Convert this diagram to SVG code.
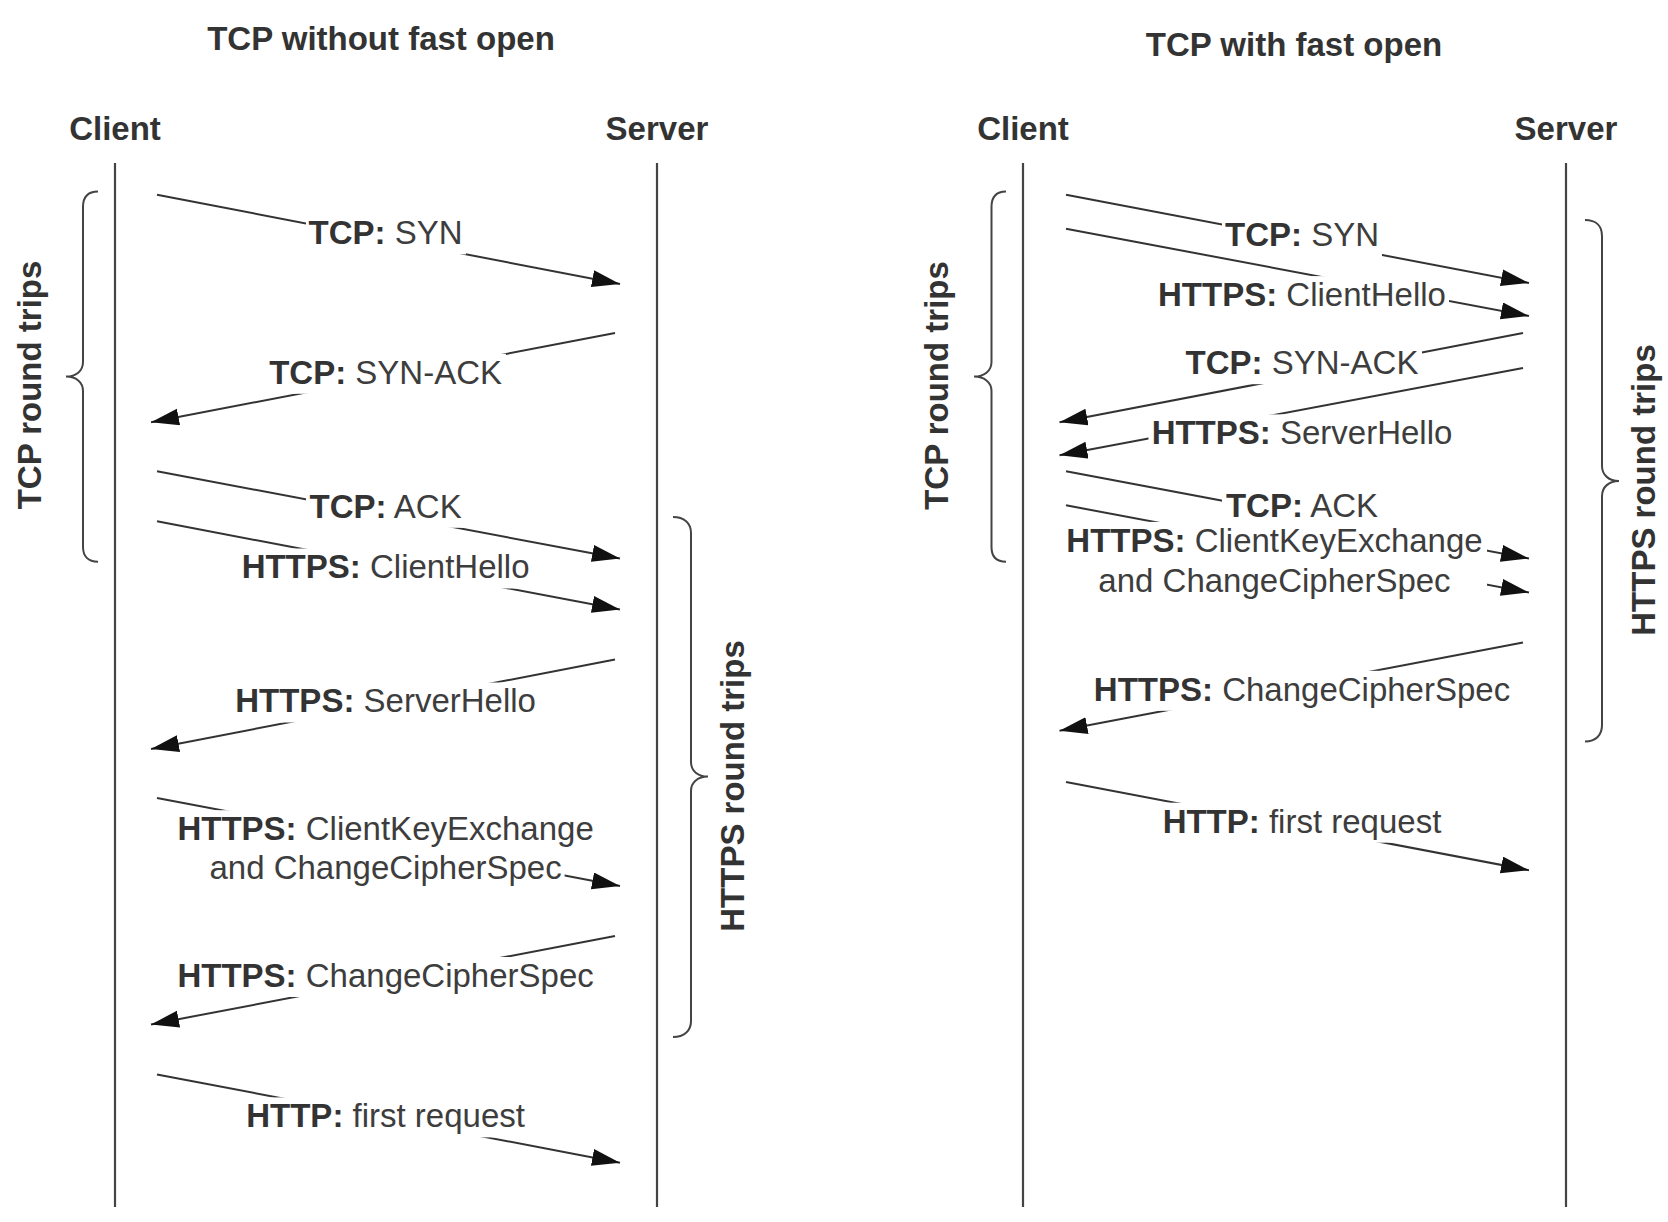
<svg xmlns="http://www.w3.org/2000/svg" width="1668" height="1222" viewBox="0 0 1668 1222">
<defs>
<style>
text{font-family:"Liberation Sans",Arial,sans-serif;font-size:33px;fill:#3d3d3d}
.b{font-weight:bold;fill:#333}
.c{text-anchor:middle}
.life{stroke:#444;stroke-width:2.2;fill:none}
.msg{stroke:#333;stroke-width:2;fill:none;marker-end:url(#ah)}
.brace{stroke:#444;stroke-width:2;fill:none}
.bg{fill:#fff}
</style>
<marker id="ah" markerWidth="30" markerHeight="18" refX="28" refY="8.5" orient="auto" markerUnits="userSpaceOnUse">
<path d="M0,0 L28,8.5 L0,17 Z" fill="#111"/>
</marker>
</defs>
<rect width="1668" height="1222" fill="#fff"/>

<g id="titles">
<text class="b c" x="381" y="50">TCP without fast open</text>
<text class="b c" x="1294" y="56">TCP with fast open</text>
</g>

<g id="left-client"><text class="b c" x="115" y="140">Client</text><line class="life" x1="115" y1="163" x2="115" y2="1207"/></g>
<g id="left-server"><text class="b c" x="657" y="140">Server</text><line class="life" x1="657" y1="163" x2="657" y2="1207"/></g>
<g id="right-client"><text class="b c" x="1023" y="140">Client</text><line class="life" x1="1023" y1="163" x2="1023" y2="1207"/></g>
<g id="right-server"><text class="b c" x="1566" y="140">Server</text><line class="life" x1="1566" y1="163" x2="1566" y2="1207"/></g>

<g id="left-tcp-brace">
<path class="brace" d="M98,191.5 C88,191.5 83,197 83,207 L83,362 C83,371 76,376.6 66,376.6 C76,376.6 83,382 83,391 L83,547 C83,556 88,561.7 98,561.7"/>
<text class="b c" transform="translate(40.5,385) rotate(-90)">TCP round trips</text>
</g>
<g id="left-https-brace">
<path class="brace" d="M673,517 C684,517 691,523 691,533 L691,762 C691,771 698,776.6 708,776.6 C698,776.6 691,782 691,791 L691,1021 C691,1031 684,1037 673,1037"/>
<text class="b c" transform="translate(744,786) rotate(-90)">HTTPS round trips</text>
</g>
<g id="right-tcp-brace">
<path class="brace" d="M1006,191.5 C996,191.5 991.5,197 991.5,207 L991.5,362 C991.5,371 984,376.6 974,376.6 C984,376.6 991.5,382 991.5,391 L991.5,547 C991.5,556 996,561.7 1006,561.7"/>
<text class="b c" transform="translate(948,385.5) rotate(-90)">TCP round trips</text>
</g>
<g id="right-https-brace">
<path class="brace" d="M1585,220 C1596,220 1602,226 1602,236 L1602,466 C1602,475 1609,481 1619,481 C1609,481 1602,487 1602,496 L1602,725 C1602,735 1596,741.5 1585,741.5"/>
<text class="b c" transform="translate(1655,490) rotate(-90)">HTTPS round trips</text>
</g>

<g id="connectors">
<line class="msg" x1="157" y1="194.7" x2="620" y2="284"/>
<line class="msg" x1="615" y1="333" x2="151" y2="422.3"/>
<line class="msg" x1="157" y1="471.3" x2="620" y2="558.5"/>
<line class="msg" x1="157" y1="521.3" x2="620" y2="609.6"/>
<line class="msg" x1="615" y1="659.6" x2="151" y2="748.9"/>
<line class="msg" x1="157" y1="797.9" x2="620" y2="886.1"/>
<line class="msg" x1="615" y1="936.1" x2="151" y2="1024.4"/>
<line class="msg" x1="157" y1="1074.4" x2="620" y2="1162.7"/>

<line class="msg" x1="1066" y1="194.7" x2="1529" y2="283"/>
<line class="msg" x1="1066" y1="228.7" x2="1529" y2="316"/>
<line class="msg" x1="1523" y1="333" x2="1059.5" y2="422.3"/>
<line class="msg" x1="1523" y1="368" x2="1059.5" y2="455.3"/>
<line class="msg" x1="1066" y1="471.3" x2="1529" y2="558.5"/>
<line class="msg" x1="1066" y1="505.3" x2="1529" y2="592.5"/>
<line class="msg" x1="1523" y1="642.5" x2="1059.5" y2="730.8"/>
<line class="msg" x1="1066" y1="782" x2="1529" y2="870.2"/>
</g>

<g id="left-labels">
<g id="l-syn"><rect class="bg" x="306" y="214.4" width="160" height="40"/><text class="c" x="385.6" y="244.2"><tspan class="b">TCP:</tspan> SYN</text></g>
<g id="l-synack"><rect class="bg" x="266" y="353.8" width="240" height="40"/><text class="c" x="385.6" y="383.6"><tspan class="b">TCP:</tspan> SYN-ACK</text></g>
<g id="l-ack"><rect class="bg" x="306" y="487.8" width="160" height="40"/><text class="c" x="385.6" y="517.6"><tspan class="b">TCP:</tspan> ACK</text></g>
<g id="l-clienthello"><rect class="bg" x="239" y="548.5" width="294" height="40"/><text class="c" x="385.6" y="578.3"><tspan class="b">HTTPS:</tspan> ClientHello</text></g>
<g id="l-serverhello"><rect class="bg" x="232" y="682.5" width="307" height="40"/><text class="c" x="385.6" y="712.3"><tspan class="b">HTTPS:</tspan> ServerHello</text></g>
<g id="l-cke"><rect class="bg" x="174.6" y="810.2" width="422" height="40"/><rect class="bg" x="206.6" y="849.5" width="358" height="40"/><text class="c" x="385.6" y="840"><tspan class="b">HTTPS:</tspan> ClientKeyExchange</text><text class="c" x="385.6" y="879.3">and ChangeCipherSpec</text></g>
<g id="l-ccs"><rect class="bg" x="174.6" y="957" width="422" height="40"/><text class="c" x="385.6" y="986.8"><tspan class="b">HTTPS:</tspan> ChangeCipherSpec</text></g>
<g id="l-http"><rect class="bg" x="243" y="1097.4" width="285" height="40"/><text class="c" x="385.6" y="1127.2"><tspan class="b">HTTP:</tspan> first request</text></g>
</g>

<g id="right-labels">
<g id="r-syn"><rect class="bg" x="1222" y="216.6" width="160" height="40"/><text class="c" x="1302" y="246.4"><tspan class="b">TCP:</tspan> SYN</text></g>
<g id="r-clienthello"><rect class="bg" x="1155" y="276.1" width="294" height="40"/><text class="c" x="1302" y="305.9"><tspan class="b">HTTPS:</tspan> ClientHello</text></g>
<g id="r-synack"><rect class="bg" x="1182" y="344.2" width="240" height="40"/><text class="c" x="1302" y="374"><tspan class="b">TCP:</tspan> SYN-ACK</text></g>
<g id="r-serverhello"><rect class="bg" x="1148.5" y="414.4" width="307" height="40"/><text class="c" x="1302" y="444.2"><tspan class="b">HTTPS:</tspan> ServerHello</text></g>
<g id="r-ack"><rect class="bg" x="1222" y="486.8" width="160" height="38"/><text class="c" x="1302" y="516.6"><tspan class="b">TCP:</tspan> ACK</text></g>
<g id="r-cke"><rect class="bg" x="1063" y="521.9" width="424" height="80"/><text class="c" x="1274.5" y="551.7"><tspan class="b">HTTPS:</tspan> ClientKeyExchange</text><text class="c" x="1274.5" y="592.1">and ChangeCipherSpec</text></g>
<g id="r-ccs"><rect class="bg" x="1091" y="670.8" width="422" height="40"/><text class="c" x="1302" y="700.6"><tspan class="b">HTTPS:</tspan> ChangeCipherSpec</text></g>
<g id="r-http"><rect class="bg" x="1159.5" y="802.7" width="285" height="40"/><text class="c" x="1302" y="832.5"><tspan class="b">HTTP:</tspan> first request</text></g>
</g>
</svg>
